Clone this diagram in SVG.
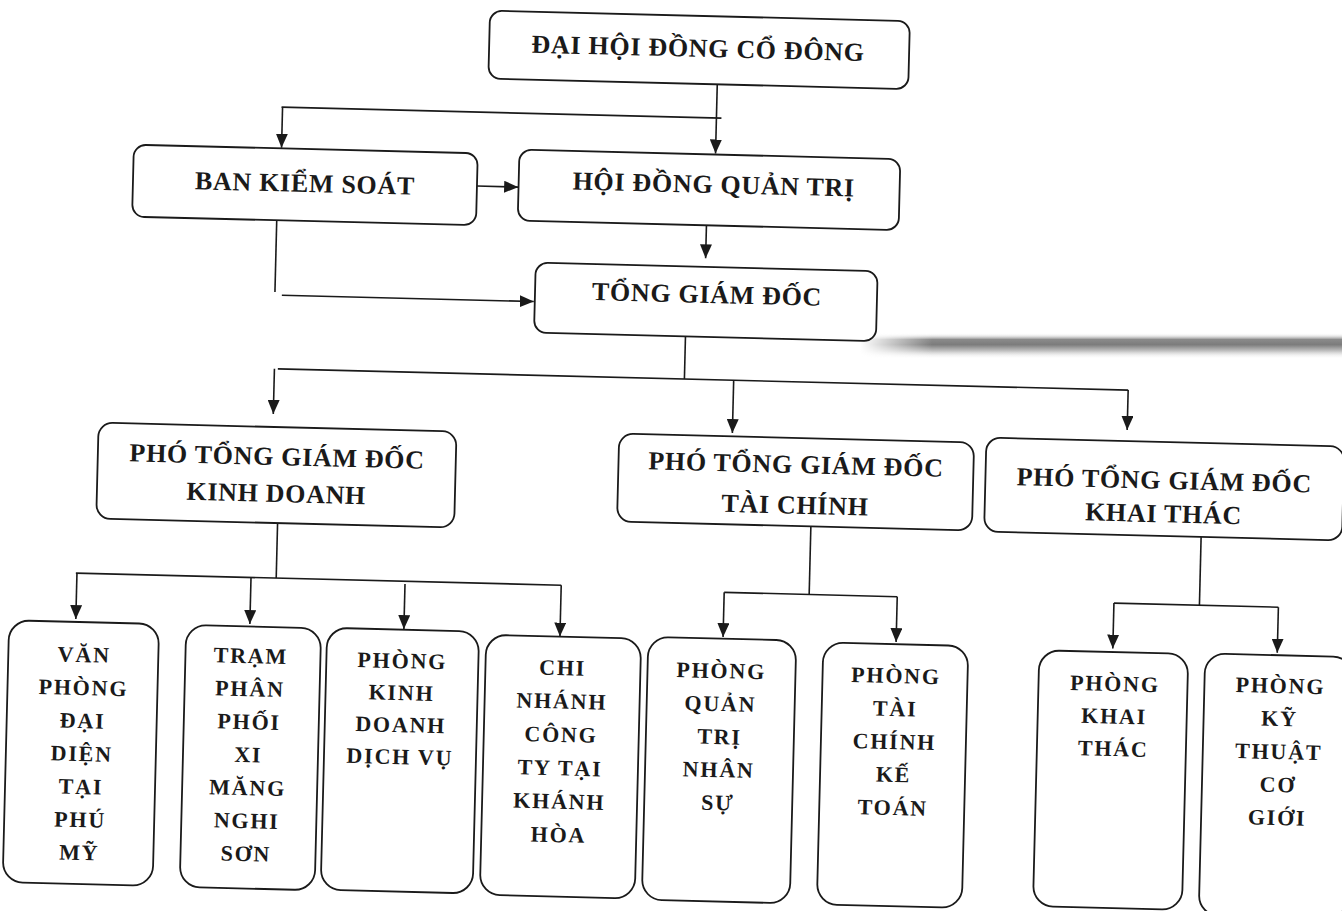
<svg xmlns="http://www.w3.org/2000/svg" width="1342" height="911" viewBox="0 0 1342 911">
  <defs>
    <style>
      .box { fill: #ffffff; stroke: #1a1a1a; stroke-width: 1.8; }
      .line { fill: none; stroke: #1a1a1a; stroke-width: 1.6; }
      .arrow { fill: none; stroke: #1a1a1a; stroke-width: 1.6; marker-end: url(#ah); }
      .t1 { font-family: "Liberation Serif", "Times New Roman", serif; font-weight: bold; font-size: 26px; letter-spacing: 0.7px; fill: #1a1a1a; text-anchor: middle; }
      .t2 { font-family: "Liberation Serif", "Times New Roman", serif; font-weight: bold; font-size: 22px; letter-spacing: 1.8px; fill: #1a1a1a; text-anchor: middle; }
    </style>
    <marker id="ah" viewBox="0 0 14 12" refX="14" refY="6" markerWidth="14" markerHeight="12" markerUnits="userSpaceOnUse" orient="auto">
      <path d="M0,0 L14,6 L0,12 Z" fill="#1a1a1a"/>
    </marker>
    <linearGradient id="bandV" x1="0" y1="0" x2="0" y2="1">
      <stop offset="0" stop-color="#ffffff" stop-opacity="0"/>
      <stop offset="0.25" stop-color="#8a8a8a"/>
      <stop offset="0.45" stop-color="#7c7c7c"/>
      <stop offset="0.7" stop-color="#c4c4c4"/>
      <stop offset="1" stop-color="#ffffff" stop-opacity="0"/>
    </linearGradient>
    <linearGradient id="bandH" x1="0" y1="0" x2="1" y2="0">
      <stop offset="0" stop-color="#000000"/>
      <stop offset="0.15" stop-color="#ffffff"/>
      <stop offset="1" stop-color="#ffffff"/>
    </linearGradient>
    <mask id="bandMask">
      <rect x="860" y="330" width="482" height="32" fill="url(#bandH)"/>
    </mask>
  </defs>

  <rect x="0" y="0" width="1342" height="911" fill="#ffffff"/>
  <rect x="860" y="333" width="482" height="26" fill="url(#bandV)" mask="url(#bandMask)"/>

  <g id="diagram" transform="rotate(1.43 671 455)">
    <g id="connectors">
      <line class="line" x1="708" y1="83.3" x2="708" y2="117"/>
      <line class="arrow" x1="708" y1="117" x2="708" y2="152.5"/>
      <line class="line" x1="273" y1="117" x2="713" y2="117"/>
      <line class="arrow" x1="274" y1="117" x2="274" y2="157.5"/>
      <line class="arrow" x1="470.3" y1="191" x2="511.5" y2="191"/>
      <line class="arrow" x1="700.7" y1="224.5" x2="700.7" y2="257.5"/>
      <line class="line" x1="271" y1="230.2" x2="271" y2="302"/>
      <line class="arrow" x1="278" y1="305" x2="530" y2="305"/>
      <line class="line" x1="682.5" y1="336.1" x2="682.5" y2="378.7"/>
      <line class="line" x1="275.8" y1="378.7" x2="1126.4" y2="378.7"/>
      <line class="arrow" x1="272.4" y1="378.7" x2="272.4" y2="423.9"/>
      <line class="arrow" x1="731.8" y1="378.7" x2="731.8" y2="431.5"/>
      <line class="arrow" x1="1126.4" y1="378.7" x2="1126.4" y2="418.6"/>
      <line class="line" x1="279.4" y1="532.9" x2="279.4" y2="587.9"/>
      <line class="line" x1="79" y1="587.9" x2="564.5" y2="587.9"/>
      <line class="arrow" x1="80.1" y1="587.9" x2="80.1" y2="633.9"/>
      <line class="arrow" x1="254.2" y1="587.9" x2="254.2" y2="634.5"/>
      <line class="arrow" x1="408.3" y1="590.5" x2="408.3" y2="635.7"/>
      <line class="arrow" x1="564.5" y1="587.9" x2="564.5" y2="639.3"/>
      <line class="line" x1="812.6" y1="522.9" x2="812.6" y2="591"/>
      <line class="line" x1="727.6" y1="591" x2="900.7" y2="591"/>
      <line class="arrow" x1="727.6" y1="591" x2="727.6" y2="635.7"/>
      <line class="arrow" x1="900.7" y1="591" x2="900.7" y2="636.4"/>
      <line class="line" x1="1203" y1="523.7" x2="1203" y2="592"/>
      <line class="line" x1="1117.5" y1="592" x2="1282" y2="592"/>
      <line class="arrow" x1="1117.5" y1="592" x2="1117.5" y2="637.5"/>
      <line class="arrow" x1="1282" y1="592" x2="1282" y2="637.5"/>
    </g>

    <g id="dai-hoi-dong-co-dong">
      <rect class="box" x="479" y="15.3" width="420" height="68" rx="12"/>
      <text class="t1" x="688" y="56.3">ĐẠI HỘI ĐỒNG CỔ ĐÔNG</text>
    </g>
    <g id="ban-kiem-soat">
      <rect class="box" x="126.3" y="158.2" width="344" height="72" rx="12"/>
      <text class="t1" x="298.3" y="201.2">BAN KIỂM SOÁT</text>
    </g>
    <g id="hoi-dong-quan-tri">
      <rect class="box" x="511.9" y="153.5" width="381" height="71" rx="12"/>
      <text class="t1" x="707" y="192">HỘI ĐỒNG QUẢN TRỊ</text>
    </g>
    <g id="tong-giam-doc">
      <rect class="box" x="531" y="266.1" width="342" height="70" rx="12"/>
      <text class="t1" x="703" y="302">TỔNG GIÁM ĐỐC</text>
    </g>

    <g id="pho-tgd-kinh-doanh">
      <rect class="box" x="98" y="436.9" width="358" height="96" rx="14"/>
      <text class="t1" x="277.3" y="474.9">PHÓ TỔNG GIÁM ĐỐC</text>
      <text class="t1" x="277.3" y="511.9">KINH DOANH</text>
    </g>
    <g id="pho-tgd-tai-chinh">
      <rect class="box" x="618.7" y="434.9" width="355" height="88" rx="14"/>
      <text class="t1" x="796.2" y="469.9">PHÓ TỔNG GIÁM ĐỐC</text>
      <text class="t1" x="796.2" y="510.5">TÀI CHÍNH</text>
    </g>
    <g id="pho-tgd-khai-thac">
      <rect class="box" x="985.9" y="429.7" width="358" height="94" rx="14"/>
      <text class="t1" x="1164.8" y="476.5">PHÓ TỔNG GIÁM ĐỐC</text>
      <text class="t1" x="1164.8" y="510">KHAI THÁC</text>
    </g>

    <g id="van-phong-dai-dien">
      <rect class="box" x="13.5" y="636.7" width="150" height="262" rx="20"/>
      <text class="t2" x="89.4" y="676.7">VĂN</text>
      <text class="t2" x="89.4" y="709.7">PHÒNG</text>
      <text class="t2" x="89.4" y="742.7">ĐẠI</text>
      <text class="t2" x="89.4" y="775.7">DIỆN</text>
      <text class="t2" x="89.4" y="808.7">TẠI</text>
      <text class="t2" x="89.4" y="841.7">PHÚ</text>
      <text class="t2" x="89.4" y="874.7">MỸ</text>
    </g>
    <g id="tram-phan-phoi">
      <rect class="box" x="190.6" y="637" width="135" height="262" rx="20"/>
      <text class="t2" x="256" y="673.6">TRẠM</text>
      <text class="t2" x="256" y="706.6">PHÂN</text>
      <text class="t2" x="256" y="739.6">PHỐI</text>
      <text class="t2" x="256" y="772.6">XI</text>
      <text class="t2" x="256" y="805.6">MĂNG</text>
      <text class="t2" x="256" y="838.6">NGHI</text>
      <text class="t2" x="256" y="871.6">SƠN</text>
    </g>
    <g id="phong-kinh-doanh-dich-vu">
      <rect class="box" x="331.6" y="636.3" width="152" height="262" rx="20"/>
      <text class="t2" x="407.6" y="674.8">PHÒNG</text>
      <text class="t2" x="407.6" y="706.8">KINH</text>
      <text class="t2" x="407.6" y="738.8">DOANH</text>
      <text class="t2" x="407.6" y="770.8">DỊCH VỤ</text>
    </g>
    <g id="chi-nhanh-khanh-hoa">
      <rect class="box" x="490.8" y="639.3" width="155" height="260" rx="20"/>
      <text class="t2" x="568" y="677.8">CHI</text>
      <text class="t2" x="568" y="711.2">NHÁNH</text>
      <text class="t2" x="568" y="744.6">CÔNG</text>
      <text class="t2" x="568" y="778">TY TẠI</text>
      <text class="t2" x="568" y="811.4">KHÁNH</text>
      <text class="t2" x="568" y="844.8">HÒA</text>
    </g>
    <g id="phong-quan-tri-nhan-su">
      <rect class="box" x="652.9" y="637.3" width="148" height="263" rx="20"/>
      <text class="t2" x="726.6" y="676.8">PHÒNG</text>
      <text class="t2" x="726.6" y="709.8">QUẢN</text>
      <text class="t2" x="726.6" y="742.8">TRỊ</text>
      <text class="t2" x="726.6" y="775.8">NHÂN</text>
      <text class="t2" x="726.6" y="808.8">SỰ</text>
    </g>
    <g id="phong-tai-chinh-ke-toan">
      <rect class="box" x="828" y="638.5" width="145" height="262" rx="20"/>
      <text class="t2" x="901.5" y="677.4">PHÒNG</text>
      <text class="t2" x="901.5" y="710.4">TÀI</text>
      <text class="t2" x="901.5" y="743.4">CHÍNH</text>
      <text class="t2" x="901.5" y="776.4">KẾ</text>
      <text class="t2" x="901.5" y="809.4">TOÁN</text>
    </g>
    <g id="phong-khai-thac">
      <rect class="box" x="1044.1" y="641" width="149" height="256" rx="20"/>
      <text class="t2" x="1120.5" y="679.9">PHÒNG</text>
      <text class="t2" x="1120.5" y="712.4">KHAI</text>
      <text class="t2" x="1120.5" y="744.9">THÁC</text>
    </g>
    <g id="phong-ky-thuat-co-gioi">
      <rect class="box" x="1210" y="640" width="148" height="262" rx="20"/>
      <text class="t2" x="1286" y="677.8">PHÒNG</text>
      <text class="t2" x="1286" y="710.8">KỸ</text>
      <text class="t2" x="1286" y="743.8">THUẬT</text>
      <text class="t2" x="1286" y="776.8">CƠ</text>
      <text class="t2" x="1286" y="809.8">GIỚI</text>
    </g>
  </g>
</svg>
